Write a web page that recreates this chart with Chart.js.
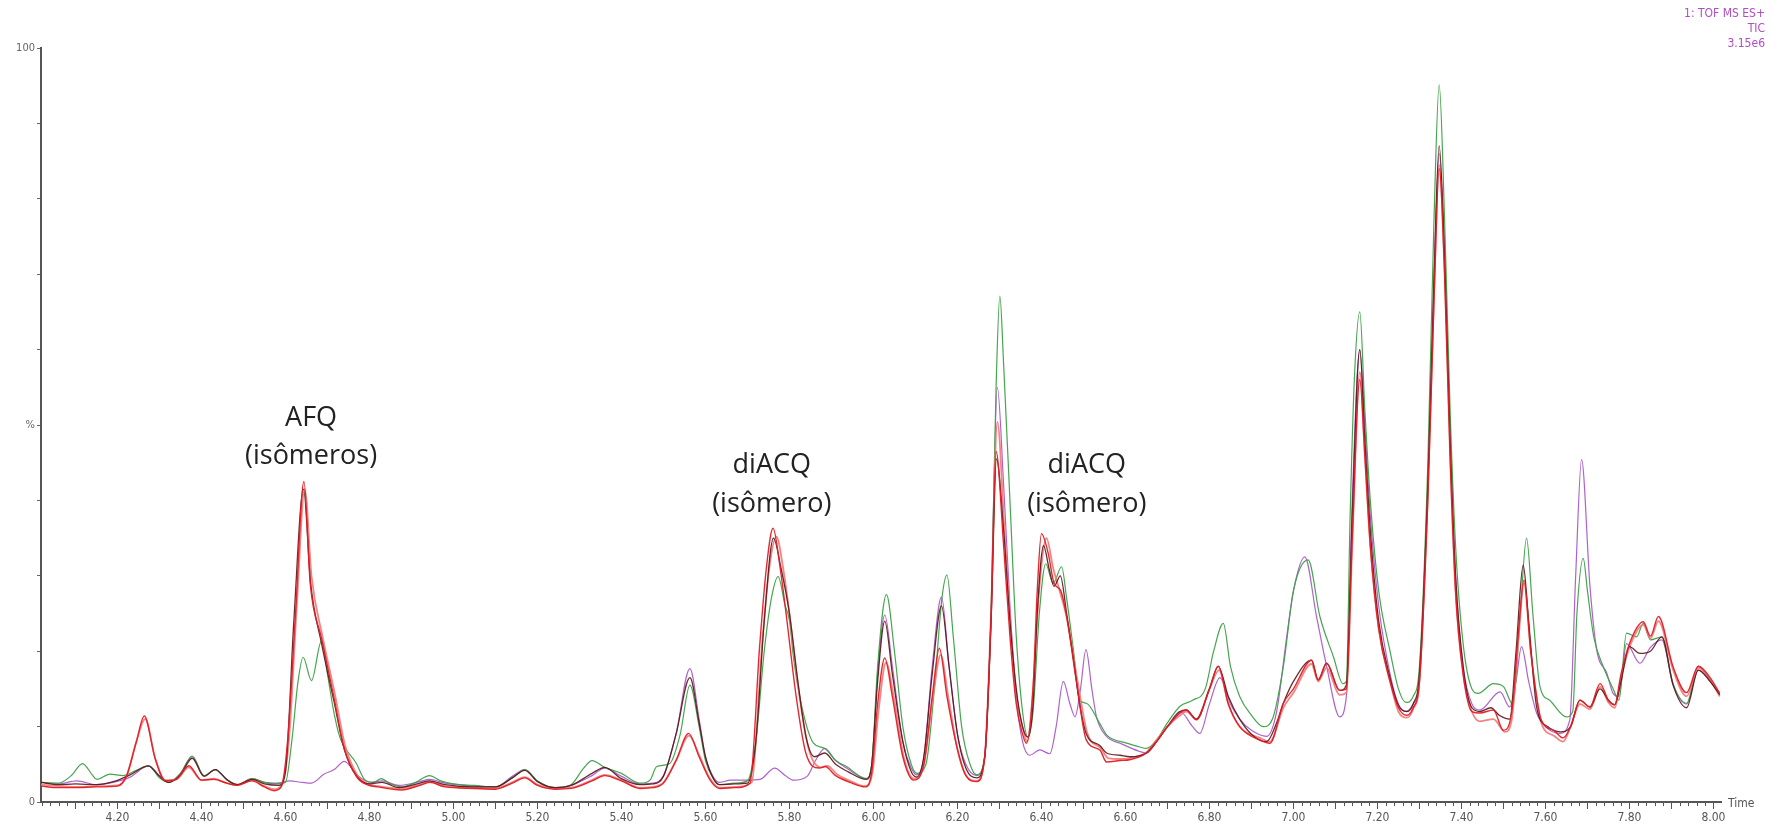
<!DOCTYPE html>
<html>
<head>
<meta charset="utf-8">
<script src="https://cdn.jsdelivr.net/npm/chart.js@4.4.1/dist/chart.umd.min.js"></script>
<style>
  html, body { margin: 0; padding: 0; background: #fff; }
  canvas { display: block; }
</style>
</head>
<body>
<canvas id="tic" width="1773" height="831"></canvas>
<script>
// retention times (min) and relative intensity (%)
var greenT = [4.018,4.06,4.09,4.117,4.14,4.151,4.182,4.214,4.245,4.274,4.30,4.322,4.35,4.378,4.406,4.433,4.46,4.485,4.521,4.55,4.573,4.60,4.615,4.63,4.642,4.662,4.686,4.70,4.715,4.73,4.744,4.768,4.788,4.81,4.828,4.85,4.876,4.91,4.943,4.97,5.00,5.05,5.10,5.14,5.17,5.20,5.242,5.28,5.31,5.33,5.36,5.40,5.444,5.468,5.484,5.515,5.54,5.563,5.585,5.60,5.62,5.634,5.67,5.70,5.72,5.74,5.757,5.773,5.79,5.80,5.81,5.828,5.857,5.884,5.91,5.936,5.983,5.996,6.01,6.031,6.05,6.07,6.09,6.103,6.125,6.145,6.163,6.175,6.19,6.21,6.23,6.246,6.265,6.28,6.292,6.301,6.31,6.325,6.34,6.355,6.368,6.38,6.395,6.41,6.428,6.448,6.46,6.476,6.491,6.507,6.539,6.555,6.603,6.634,6.65,6.674,6.70,6.73,6.76,6.79,6.81,6.833,6.85,6.872,6.90,6.928,6.95,6.976,7.00,7.035,7.063,7.095,7.118,7.126,7.135,7.145,7.158,7.17,7.183,7.203,7.23,7.25,7.268,7.285,7.30,7.32,7.335,7.347,7.36,7.373,7.386,7.404,7.425,7.44,7.476,7.50,7.523,7.54,7.555,7.57,7.587,7.61,7.65,7.665,7.675,7.69,7.70,7.715,7.738,7.762,7.775,7.793,7.817,7.833,7.85,7.877,7.904,7.936,7.964,7.992,8.015];
var greenV = [2.6,2.5,3.5,5.1,3.6,3.0,3.7,3.5,4.2,4.8,3.2,2.6,3.8,6.1,3.5,4.3,3.0,2.3,3.1,2.6,2.4,2.6,8,16,19.2,16.1,21.4,17,12,8.5,7.0,5.2,3.0,2.6,3.1,2.4,2.0,2.6,3.5,2.8,2.4,2.2,2.0,3.2,4.3,2.8,1.9,2.3,4.5,5.5,4.6,3.8,2.5,2.9,4.7,5.1,9,15.5,10,5.5,3.0,2.3,2.5,2.8,8,20,27,29.9,26,24.1,19,13,7.8,7.1,5.5,4.7,3.1,5,18,27.5,20,10,5,3.8,5,15,27,30.1,22,10,5,3.6,6,25,55,67.1,58,40,22,12,8.6,12,25,31.6,29,31.2,27,20.2,13.5,13.1,10.4,8.9,7.8,7.3,7.1,8.2,10.5,12.7,13.5,15,20,23.7,18,14,11.5,10,11,18,28,32.1,24.6,19.3,15.7,16,38,56,65,52,40,28,20,15,13.2,14,18,45,78,95.1,77,52,34,21,15,14.4,15.7,15.3,12.9,25,35,25,15.3,13.5,11.3,12,25,32.3,28,21.9,17.9,14.9,13.5,22.4,21.9,23.7,21.5,21.9,15.7,13.1,18,16.2,14.4];

var purpleT = [4.018,4.06,4.103,4.15,4.19,4.23,4.274,4.30,4.322,4.35,4.378,4.406,4.433,4.46,4.485,4.521,4.55,4.58,4.61,4.64,4.662,4.692,4.716,4.74,4.772,4.804,4.83,4.87,4.92,4.943,4.98,5.05,5.10,5.14,5.17,5.20,5.242,5.28,5.33,5.36,5.40,5.444,5.475,5.50,5.53,5.563,5.585,5.60,5.62,5.634,5.66,5.70,5.73,5.765,5.79,5.81,5.842,5.862,5.884,5.91,5.936,5.983,5.996,6.01,6.027,6.045,6.07,6.09,6.103,6.12,6.14,6.162,6.18,6.20,6.22,6.246,6.265,6.28,6.295,6.31,6.325,6.34,6.355,6.372,6.396,6.42,6.435,6.452,6.468,6.48,6.493,6.506,6.52,6.531,6.555,6.587,6.634,6.65,6.674,6.70,6.73,6.76,6.777,6.80,6.825,6.85,6.872,6.90,6.936,6.96,6.984,7.00,7.027,7.055,7.079,7.11,7.126,7.14,7.158,7.17,7.183,7.203,7.23,7.25,7.268,7.285,7.30,7.32,7.335,7.347,7.36,7.373,7.386,7.404,7.425,7.444,7.492,7.515,7.53,7.543,7.56,7.579,7.60,7.634,7.658,7.672,7.686,7.706,7.722,7.746,7.761,7.775,7.793,7.825,7.85,7.877,7.904,7.936,7.964,7.992,8.015];
var purpleV = [2.6,2.4,2.8,2.3,2.6,3.3,4.8,3.5,2.6,3.8,6.0,3.5,4.3,3.0,2.3,3.1,2.6,2.5,2.8,2.6,2.5,3.7,4.3,5.4,3.5,2.6,2.8,2.2,2.7,3.0,2.5,2.1,2.0,3.4,4.3,2.8,1.9,2.2,3.5,4.5,3.4,2.4,2.5,3.5,9,17.7,11,6,3.2,2.6,2.9,2.9,3.0,4.5,3.5,2.9,3.4,5.5,7.1,5.5,4.5,3.1,5,17,24.8,18,8,4.5,3.6,6,18,27.2,18,9,5,3.5,6,25,55,42,26,14,8,6.2,6.9,6.4,10,16,13,11.3,15,20.2,15,11.3,8.7,7.8,6.7,6.5,8,10,12,10,9.1,13,16.5,13,11,9.5,8.7,12,21.9,28,32.5,24.6,18,11.3,14,40,60,50,38,26,17,13,12,13,16,42,70,86,72,48,30,18,13,12.2,14.6,12.6,16,20.6,16,11.8,10,9.1,10.9,30,45.4,28.6,20.2,17.1,14.4,14,21,18.4,20.5,21.5,15.5,13,17.5,16,14.4];

var darkT = [4.018,4.06,4.10,4.15,4.19,4.23,4.274,4.30,4.322,4.35,4.378,4.406,4.433,4.46,4.485,4.521,4.55,4.585,4.60,4.62,4.643,4.66,4.686,4.715,4.74,4.77,4.80,4.83,4.87,4.92,4.943,4.98,5.05,5.10,5.14,5.17,5.20,5.242,5.28,5.33,5.36,5.40,5.444,5.475,5.50,5.53,5.563,5.585,5.60,5.62,5.634,5.67,5.70,5.72,5.74,5.762,5.78,5.80,5.82,5.84,5.86,5.884,5.91,5.94,5.983,5.996,6.01,6.027,6.045,6.07,6.09,6.103,6.12,6.14,6.162,6.18,6.20,6.22,6.246,6.265,6.28,6.293,6.31,6.325,6.34,6.355,6.368,6.38,6.39,6.405,6.418,6.43,6.445,6.46,6.476,6.491,6.507,6.539,6.555,6.587,6.61,6.65,6.674,6.70,6.73,6.745,6.769,6.80,6.821,6.845,6.872,6.90,6.936,6.96,6.976,7.00,7.043,7.059,7.079,7.11,7.126,7.14,7.158,7.17,7.183,7.203,7.23,7.25,7.27,7.285,7.30,7.32,7.335,7.347,7.36,7.373,7.386,7.404,7.425,7.444,7.47,7.49,7.515,7.53,7.547,7.56,7.579,7.605,7.636,7.66,7.682,7.706,7.73,7.75,7.765,7.78,7.80,7.825,7.85,7.877,7.904,7.936,7.964,7.992,8.015];
var darkV = [2.6,2.3,2.4,2.3,2.7,3.6,4.8,3.4,2.6,3.6,5.8,3.4,4.3,3.0,2.3,3.0,2.4,2.2,4,24,41.5,29,21,13.5,7,3.4,2.4,2.6,1.9,2.5,2.8,2.3,2.0,2.0,3.2,4.2,2.7,1.9,2.2,3.8,4.6,3.1,2.3,2.4,3.4,9,16.5,10.5,6,3.0,2.3,2.4,2.5,8,24,35,31,25,16,8.5,6,6.5,5,4.0,3.0,5,16,24,17,8,4,3.3,6,17,26,18,9,4.5,3.2,6,24,45.5,36,24,15,10,8.6,13,25,34,31,28.6,30,25,19,13,9,7.5,6.5,6.2,6,6.5,8,10,12,12.2,11,15,18,14,11,9,8,10.5,13.1,16,18.8,16.2,18.4,14.8,15.5,38,60,48,36,24,16.5,12.8,12,13,17,42,70,87,72,48,30,18,12.5,12,12.5,11.5,11,20,31.4,24,12.6,10,9.3,10,13.5,12.6,15,13.5,12.9,16,20.6,19.7,20,21.9,15.5,12.5,17.5,16,14.2];

var redT = [4.018,4.06,4.10,4.15,4.20,4.222,4.245,4.264,4.29,4.314,4.34,4.37,4.40,4.43,4.46,4.485,4.52,4.55,4.573,4.59,4.605,4.624,4.644,4.659,4.686,4.715,4.739,4.77,4.794,4.82,4.876,4.92,4.943,4.98,5.05,5.10,5.14,5.17,5.20,5.242,5.28,5.33,5.36,5.40,5.444,5.475,5.50,5.53,5.56,5.585,5.61,5.634,5.67,5.706,5.729,5.745,5.761,5.778,5.792,5.816,5.839,5.871,5.885,5.91,5.949,5.98,5.996,6.01,6.027,6.045,6.07,6.096,6.12,6.14,6.157,6.175,6.20,6.22,6.246,6.265,6.28,6.292,6.31,6.325,6.34,6.355,6.364,6.38,6.39,6.40,6.416,6.43,6.446,6.46,6.484,6.507,6.539,6.555,6.587,6.61,6.65,6.674,6.70,6.73,6.745,6.769,6.80,6.821,6.845,6.872,6.92,6.944,6.976,7.00,7.043,7.059,7.079,7.11,7.126,7.14,7.158,7.17,7.183,7.203,7.23,7.25,7.27,7.285,7.30,7.32,7.335,7.347,7.36,7.373,7.386,7.404,7.425,7.444,7.476,7.50,7.52,7.535,7.549,7.565,7.59,7.62,7.642,7.66,7.682,7.706,7.73,7.75,7.765,7.78,7.80,7.833,7.85,7.869,7.904,7.936,7.964,7.992,8.015];
var redV = [2.1,1.9,1.9,2.0,2.1,3.5,8,11.4,5.7,2.8,3.0,4.8,2.9,3.0,2.5,2.2,2.8,2.0,1.5,2.0,8,25,42.5,29,21.7,14,7.3,3.3,2.3,2.0,1.6,2.2,2.6,2.0,1.8,1.7,2.5,3.2,2.2,1.7,1.8,2.8,3.5,2.8,1.8,1.9,2.5,5.5,9.1,6,3,1.8,1.9,2.5,20.6,31,36.3,31,25,14,6.5,4.5,4.7,3.5,2.5,2.0,4,13,19.1,14,6,2.9,5,14,20.4,14,7,3.5,2.7,6,24,46.5,34,22,13,9,7.8,15,28,35.6,33,29,28,24.6,15.7,8.2,6.9,5.3,5.5,5.6,6.5,8,10,11.8,12.2,10.9,15,18,13,10,8.2,7.8,13.1,15,18.8,16.2,18.4,14.8,15,35,56,46,34,23,16,12.5,11.5,12.5,16,40,67,84,70,46,28,17,12,11.8,12.2,9.5,12,22,29.4,20,10.9,9.5,8.5,10,13.5,12.6,15.7,13.5,12.9,17,21,23.9,22,24.6,17.9,14.5,18,16.5,14.4];

var pinkT = [4.018,4.06,4.10,4.15,4.20,4.222,4.245,4.266,4.29,4.314,4.34,4.37,4.40,4.43,4.46,4.485,4.52,4.55,4.573,4.59,4.608,4.627,4.646,4.662,4.688,4.717,4.742,4.772,4.796,4.82,4.876,4.92,4.943,4.98,5.05,5.10,5.14,5.17,5.20,5.242,5.28,5.33,5.36,5.40,5.444,5.475,5.50,5.53,5.561,5.585,5.61,5.634,5.67,5.71,5.735,5.752,5.769,5.785,5.80,5.824,5.846,5.875,5.89,5.915,5.952,5.98,5.998,6.012,6.03,6.048,6.072,6.096,6.12,6.142,6.16,6.178,6.20,6.22,6.246,6.265,6.28,6.295,6.312,6.327,6.342,6.357,6.366,6.38,6.393,6.412,6.428,6.446,6.462,6.486,6.51,6.54,6.56,6.59,6.61,6.65,6.674,6.70,6.73,6.745,6.769,6.80,6.823,6.845,6.872,6.92,6.944,6.976,7.00,7.043,7.059,7.079,7.11,7.126,7.14,7.158,7.17,7.183,7.203,7.23,7.25,7.27,7.285,7.30,7.32,7.335,7.347,7.36,7.373,7.386,7.404,7.425,7.444,7.476,7.504,7.52,7.535,7.549,7.565,7.59,7.62,7.642,7.66,7.682,7.706,7.73,7.75,7.765,7.78,7.80,7.833,7.85,7.869,7.904,7.936,7.964,7.992,8.015];
var pinkV = [2.3,2.1,2.0,2.1,2.2,3.5,8,11,5.8,2.9,3.0,4.6,2.9,3.1,2.5,2.3,2.9,2.1,1.7,2.2,8,26,41.5,30,22,14.5,7.5,3.5,2.4,2.1,1.8,2.3,2.7,2.1,1.9,1.8,2.6,3.3,2.3,1.8,1.9,2.9,3.6,2.9,1.9,2.0,2.6,5.5,8.8,6.2,3.2,1.9,2.0,2.6,21,31,35.2,31,25,14,7,4.6,4.8,3.6,2.6,2.1,4,12,18.5,14,6,3.1,5,14,19.5,14,7,3.6,2.8,6,25,50.4,36,23,13.5,9.5,8,15,27,35,31,27.5,24,16,9,7.2,5.8,5.7,5.8,6.6,8.2,10,11.5,12,11,15,17.5,13,10,8.5,8,12.5,14.5,18.3,16,17.8,14.2,14.5,34,57,46,34,23,16,12,11.2,12.3,16,41,68,84.5,70,46,28,17,12,10.7,11,9.3,11,21,29,20,10.5,8.8,8,10,13,12.3,15.3,13.2,12.5,16.5,20.5,23.5,21.7,24,17.5,14,17.8,16.2,14];

var xMin = 4.018, xMax = 8.018;
var xTickValues = [4.2,4.4,4.6,4.8,5.0,5.2,5.4,5.6,5.8,6.0,6.2,6.4,6.6,6.8,7.0,7.2,7.4,7.6,7.8,8.0];
var yTickLabels = { 0: "0", 50: "%", 100: "100" };
var peakLabels = [
  { t: 4.661, y: [50.9, 45.8], lines: ["AFQ", "(isômeros)"] },
  { t: 5.758, y: [44.7, 39.5], lines: ["diACQ", "(isômero)"] },
  { t: 6.508, y: [44.7, 39.5], lines: ["diACQ", "(isômero)"] }
];
var headerLines = ["1: TOF MS ES+", "TIC", "3.15e6"];

var narrow = '"Liberation Sans Narrow", "DejaVu Sans Condensed", Arial, sans-serif';

function pts(ts, vs) {
  return ts.map(function (t, i) { return { x: t, y: vs[i] }; });
}

function series(ts, vs, color, width) {
  return {
    data: pts(ts, vs),
    borderColor: color,
    borderWidth: width,
    pointRadius: 0,
    fill: false,
    cubicInterpolationMode: "monotone"
  };
}

// peak labels, x tick marks (every 0.02 min, longer every 0.1), "Time" and the header
var extras = {
  id: "extras",
  afterDraw: function (chart) {
    var c = chart.ctx;
    var xs = chart.scales.x, ys = chart.scales.y;
    var bottom = chart.chartArea.bottom;
    c.save();
    c.strokeStyle = "#555";
    c.lineWidth = 1;
    for (var i = 201; i <= 400; i++) {
      var px = Math.round(xs.getPixelForValue(i / 50)) + 0.5;
      c.beginPath();
      c.moveTo(px, bottom + 1);
      c.lineTo(px, bottom + (i % 5 === 0 ? 7 : 4));
      c.stroke();
    }

    c.fillStyle = "#555";
    c.font = "12px " + narrow;
    c.textAlign = "left";
    c.textBaseline = "middle";
    c.fillText("Time", chart.chartArea.right + 7, bottom + 2);

    c.fillStyle = "#222";
    c.font = '27px "Open Sans", sans-serif';
    c.textAlign = "center";
    peakLabels.forEach(function (p) {
      p.lines.forEach(function (txt, k) {
        c.fillText(txt, xs.getPixelForValue(p.t), ys.getPixelForValue(p.y[k]));
      });
    });

    c.fillStyle = "#b04cc4";
    c.font = "12px " + narrow;
    c.textAlign = "right";
    headerLines.forEach(function (txt, k) {
      c.fillText(txt, 1765, 14 + k * 14.8);
    });
    c.restore();
  }
};

var ctx = document.getElementById("tic").getContext("2d");
var chart = new Chart(ctx, {
  type: "line",
  data: {
    datasets: [
      series(redT, redV, "rgba(226, 30, 36, 0.95)", 1.4),
      series(darkT, darkV, "rgba(90, 20, 24, 0.9)", 1.3),
      series(pinkT, pinkV, "rgba(240, 120, 120, 0.9)", 1.8),
      series(greenT, greenV, "rgba(60, 160, 70, 0.95)", 1.2),
      series(purpleT, purpleV, "rgba(170, 90, 200, 0.95)", 1.2)
    ]
  },
  options: {
    responsive: false,
    animation: false,
    layout: { padding: { top: 48, right: 52, bottom: 0, left: 0 } },
    plugins: { legend: { display: false }, tooltip: { enabled: false } },
    scales: {
      x: {
        type: "linear",
        min: xMin,
        max: xMax,
        afterBuildTicks: function (s) {
          s.ticks = xTickValues.map(function (v) { return { value: v }; });
        },
        afterFit: function (s) { s.height = 29; },
        border: { display: true, color: "#555", width: 2 },
        grid: { display: false, tickLength: 5 },
        ticks: {
          autoSkip: false,
          maxRotation: 0,
          minRotation: 0,
          padding: 4,
          color: "#555",
          font: { family: narrow, size: 12 },
          callback: function (v) { return Number(v).toFixed(2); }
        }
      },
      y: {
        min: 0,
        max: 100,
        afterFit: function (s) { s.width = 41; },
        border: { color: "#555", width: 2 },
        grid: { drawOnChartArea: false, tickLength: 4, color: "#666" },
        ticks: {
          stepSize: 10,
          padding: 2,
          color: "#666",
          font: { family: narrow, size: 11 },
          callback: function (v) { return yTickLabels[v] !== undefined ? yTickLabels[v] : ""; }
        }
      }
    }
  },
  plugins: [extras]
});
</script>
</body>
</html>
